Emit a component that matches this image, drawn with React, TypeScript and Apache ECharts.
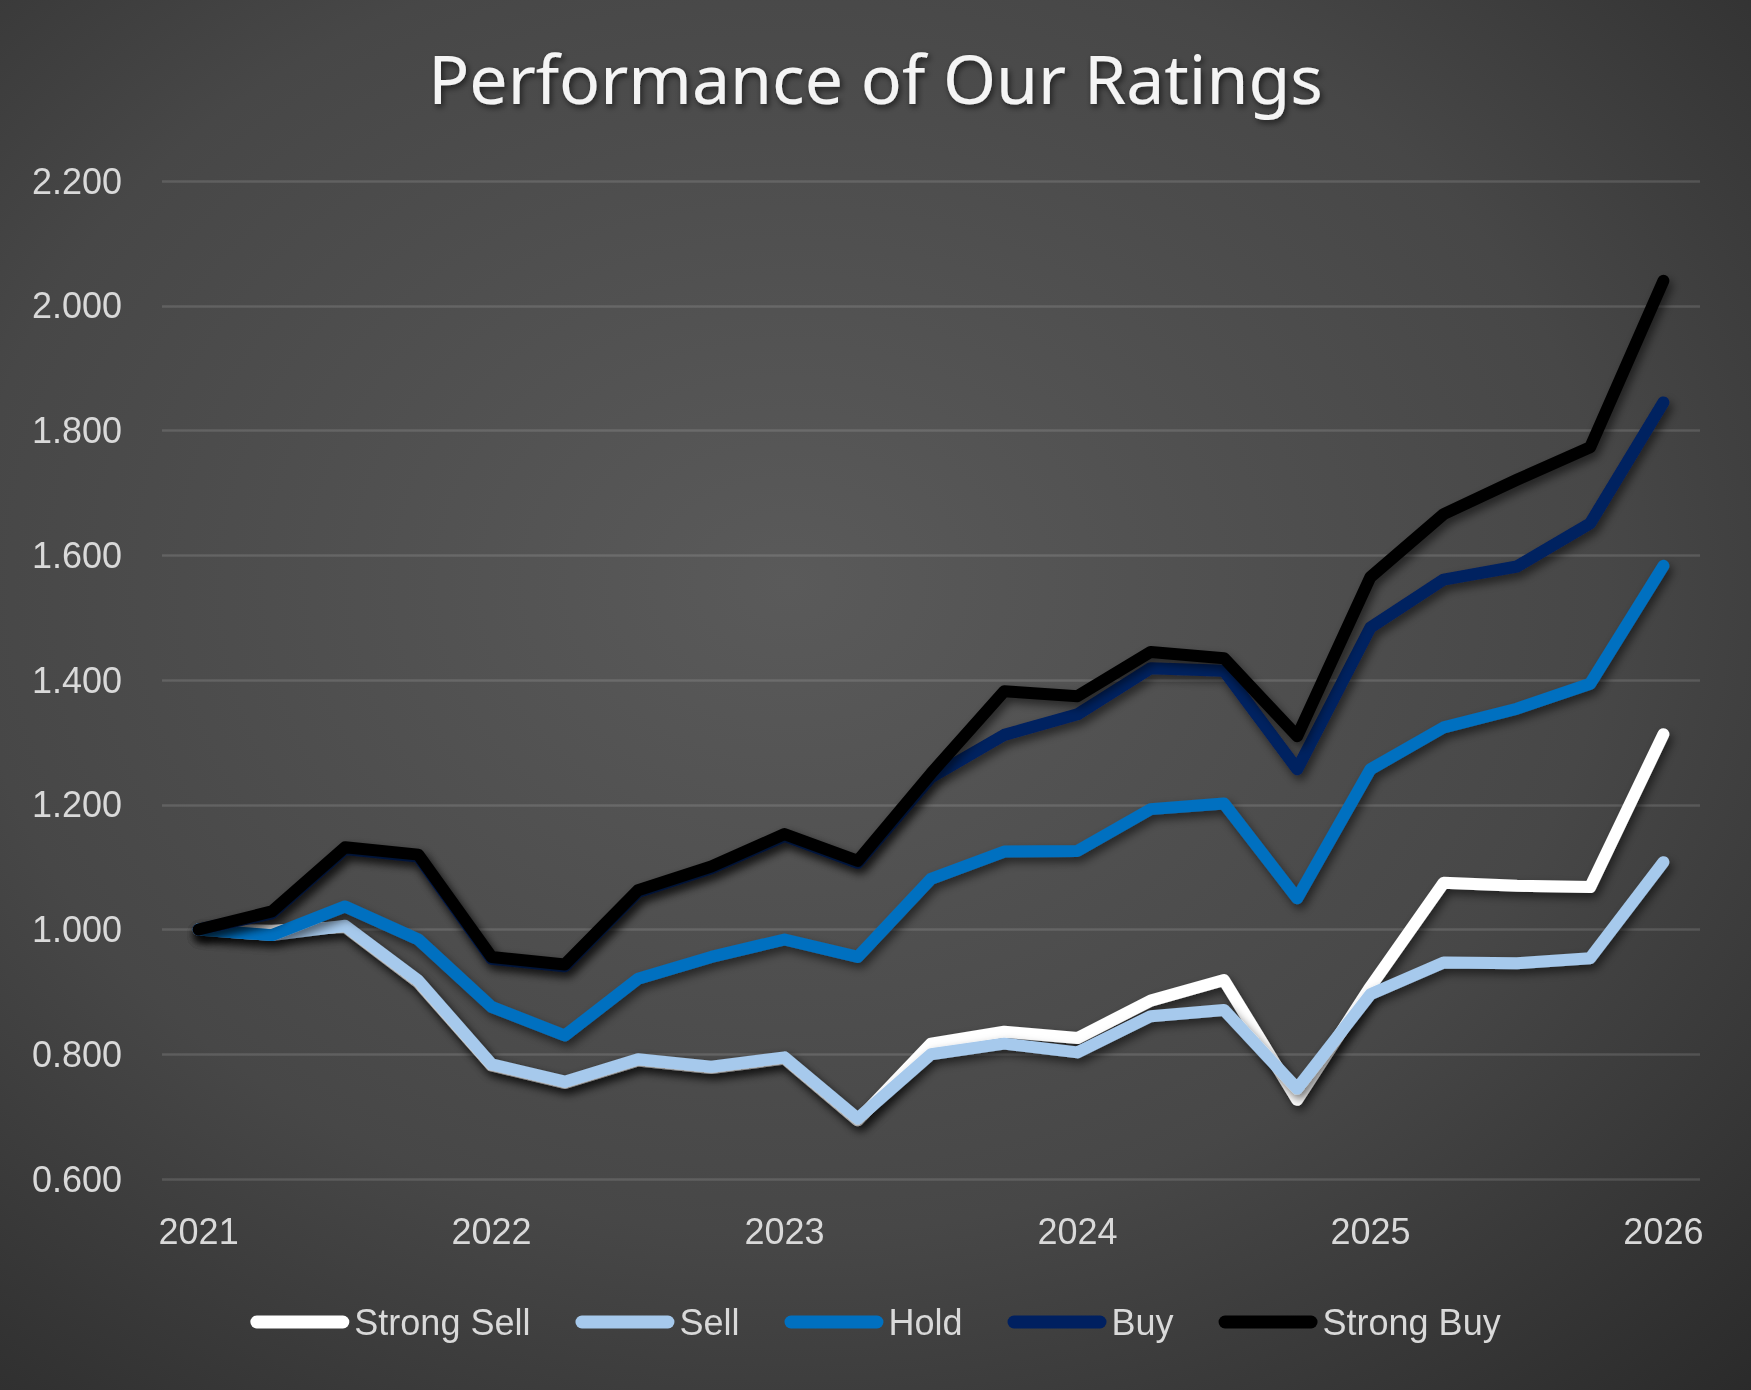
import React, { useEffect, useRef } from "react";
import * as echarts from "echarts";

const quarters = [
  "2021 Q1", "2021 Q2", "2021 Q3", "2021 Q4",
  "2022 Q1", "2022 Q2", "2022 Q3", "2022 Q4",
  "2023 Q1", "2023 Q2", "2023 Q3", "2023 Q4",
  "2024 Q1", "2024 Q2", "2024 Q3", "2024 Q4",
  "2025 Q1", "2025 Q2", "2025 Q3", "2025 Q4",
  "2026 Q1",
];

const seriesNames = ["Strong Sell", "Sell", "Hold", "Buy", "Strong Buy"];
const seriesColors = ["#FFFFFF", "#A6C9EC", "#0070C0", "#002060", "#000000"];

const strongSell = [1.0, 0.998, 1.004, 0.915, 0.782, 0.754, 0.79, 0.778, 0.793, 0.694, 0.817, 0.836, 0.826, 0.886, 0.919, 0.727, 0.908, 1.075, 1.07, 1.068, 1.313];
const sell = [1.0, 0.991, 1.006, 0.918, 0.784, 0.756, 0.792, 0.78, 0.795, 0.697, 0.8, 0.817, 0.803, 0.861, 0.871, 0.745, 0.896, 0.947, 0.946, 0.954, 1.108];
const hold = [1.0, 0.991, 1.037, 0.984, 0.876, 0.83, 0.921, 0.956, 0.984, 0.956, 1.081, 1.125, 1.126, 1.193, 1.202, 1.05, 1.257, 1.324, 1.354, 1.394, 1.583];
const buy = [1.0, 1.026, 1.129, 1.117, 0.953, 0.941, 1.06, 1.098, 1.15, 1.107, 1.244, 1.312, 1.345, 1.419, 1.415, 1.257, 1.484, 1.561, 1.582, 1.651, 1.845];
const strongBuy = [1.0, 1.029, 1.132, 1.12, 0.956, 0.944, 1.063, 1.101, 1.153, 1.11, 1.25, 1.382, 1.374, 1.445, 1.435, 1.31, 1.565, 1.666, 1.721, 1.773, 2.04];

const seriesValues = [strongSell, sell, hold, buy, strongBuy];

const yMin = 0.6;
const yMax = 2.2;
const yStep = 0.2;

const pill = "path://M6.5,0 L93.5,0 A6.5,6.5 0 0 1 93.5,13 L6.5,13 A6.5,6.5 0 0 1 6.5,0 Z";

export default function App() {
  const ref = useRef<HTMLDivElement>(null);

  useEffect(() => {
    if (!ref.current) return;
    const chart = echarts.init(ref.current, null, { renderer: "svg" });
    const labelFont = "'Liberation Sans', Arial, sans-serif";
    chart.setOption({
      animation: false,
      backgroundColor: {
        type: "radial",
        x: 0.45,
        y: 0.42,
        r: 0.85,
        colorStops: [
          { offset: 0, color: "#5a5a5a" },
          { offset: 0.55, color: "#474747" },
          { offset: 1, color: "#262626" },
        ],
      },
      title: {
        text: "Performance of Our Ratings",
        left: "center",
        top: 38,
        textStyle: {
          fontFamily: "'Noto Sans', sans-serif",
          fontWeight: "normal",
          fontSize: 68,
          color: "#f4f4f4",
          textShadowColor: "rgba(0,0,0,0.6)",
          textShadowBlur: 6,
          textShadowOffsetX: 2,
          textShadowOffsetY: 3,
        },
      },
      grid: { left: 162, right: 51, top: 181, bottom: 211, containLabel: false },
      legend: {
        left: "center",
        top: 1299,
        itemWidth: 99,
        itemHeight: 13,
        itemGap: 45,
        textStyle: { fontFamily: labelFont, fontSize: 36, color: "#d9d9d9" },
        data: seriesNames.map((n, i) => ({
          name: n,
          icon: pill,
          itemStyle: { color: seriesColors[i], borderWidth: 0, shadowBlur: 0 },
        })),
      },
      xAxis: {
        type: "category",
        data: quarters,
        boundaryGap: true,
        axisLine: { show: false },
        axisTick: { show: false },
        splitLine: { show: false },
        axisLabel: {
          interval: 3,
          margin: 34,
          fontFamily: labelFont,
          fontSize: 36,
          color: "#d9d9d9",
          formatter: (v: string) => v.slice(0, 4),
        },
      },
      yAxis: {
        type: "value",
        min: yMin,
        max: yMax,
        interval: yStep,
        axisLine: { show: false },
        axisTick: { show: false },
        splitLine: { lineStyle: { color: "rgba(255,255,255,0.13)", width: 2.5 } },
        axisLabel: {
          margin: 40,
          fontFamily: labelFont,
          fontSize: 36,
          color: "#d9d9d9",
          formatter: (v: number) => v.toFixed(3),
        },
      },
      series: seriesNames.map((n, i) => ({
        name: n,
        type: "line",
        data: seriesValues[i],
        symbol: "none",
        showSymbol: false,
        smooth: false,
        color: seriesColors[i],
        itemStyle: { color: seriesColors[i] },
        lineStyle: {
          color: seriesColors[i],
          width: 12,
          cap: "round",
          join: "round",
          shadowColor: "rgba(0,0,0,0.55)",
          shadowBlur: 10,
          shadowOffsetX: 3,
          shadowOffsetY: 5,
        },
        z: 2 + i,
      })),
    });
    return () => chart.dispose();
  }, []);

  return (
    <div
      ref={ref}
      style={{ position: "fixed", left: 0, top: 0, width: 1751, height: 1390 }}
    />
  );
}
